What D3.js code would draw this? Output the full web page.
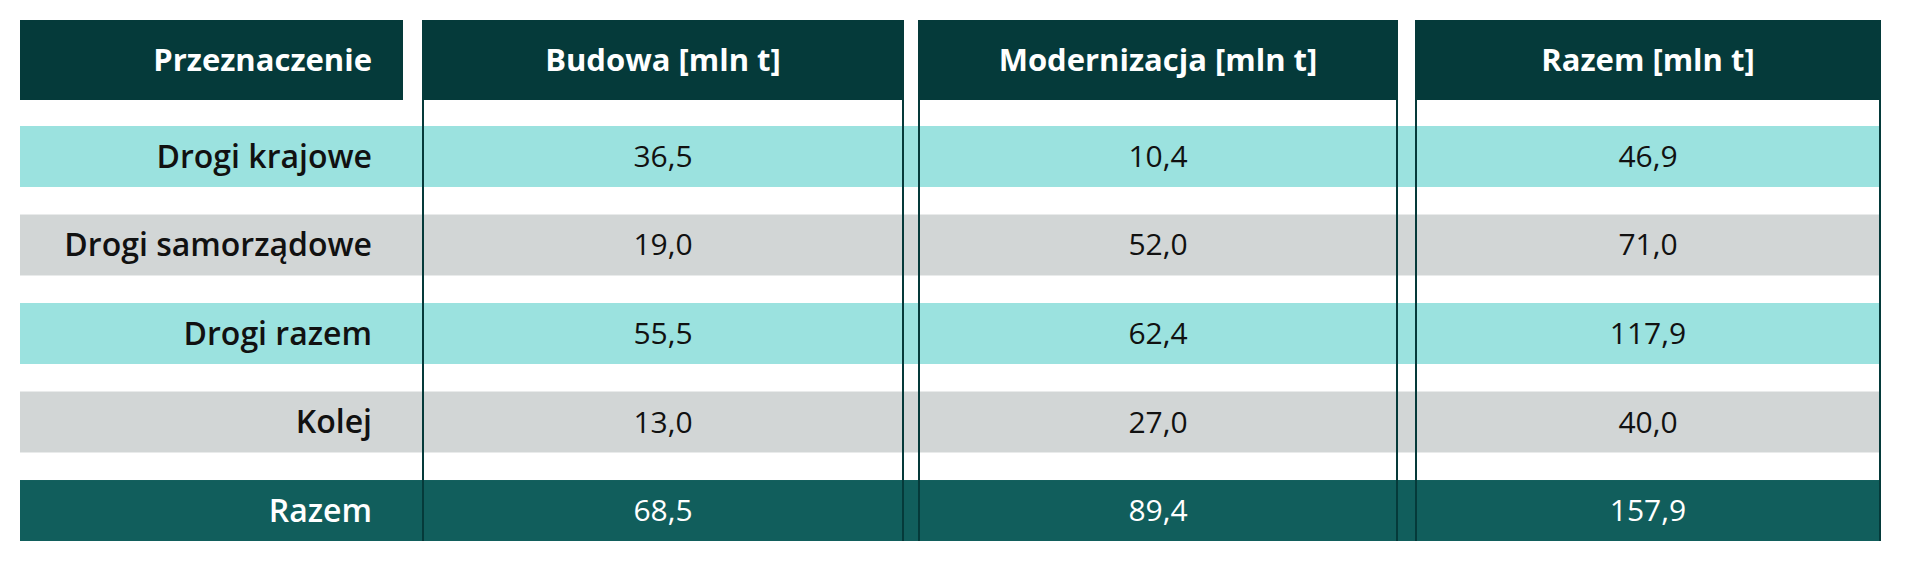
<!DOCTYPE html><html><head><meta charset="utf-8"><script src="https://cdn.jsdelivr.net/npm/d3@7"></script>
<style>body{margin:0;background:#fff}</style></head><body><svg id="c" width="1920" height="565"></svg>
<script>
const headers=["Przeznaczenie","Budowa [mln t]","Modernizacja [mln t]","Razem [mln t]"];
const categories=["Drogi krajowe","Drogi samorządowe","Drogi razem","Kolej","Razem"];
const budowa=["36,5","19,0","55,5","13,0","68,5"];
const modernizacja=["10,4","52,0","62,4","27,0","89,4"];
const razem=["46,9","71,0","117,9","40,0","157,9"];
const rowFill=["#9be2df","#d2d6d6","#9be2df","#d2d6d6","#115e5c"];
const svg=d3.select("#c");
const cols=[[20,403],[422,904],[918,1398],[1415,1881]];
const rowY=d3.scaleBand().domain(d3.range(5)).range([126,541]).paddingInner(0.311).paddingOuter(0);
const font="'Open Sans',sans-serif";
cols.forEach((c,i)=>{svg.append("rect").attr("x",c[0]).attr("y",20).attr("width",c[1]-c[0]).attr("height",80).attr("fill","#053a3a");
 svg.append("text").attr("x",i==0?372:(c[0]+c[1])/2).attr("y",60).attr("dy","0.35em").attr("text-anchor",i==0?"end":"middle")
 .attr("fill","#fff").attr("font-family",font).attr("font-weight",700).attr("font-size",31).text(headers[i]);});
const data=categories.map((k,i)=>[k,budowa[i],modernizacja[i],razem[i]]);
data.forEach((r,i)=>{const y=rowY(i),h=rowY.bandwidth();
 svg.append("rect").attr("x",20).attr("y",y).attr("width",1861).attr("height",h).attr("fill",rowFill[i]);
 const tc=i==4?"#fff":"#111";
 r.forEach((v,j)=>{svg.append("text").attr("x",j==0?372:(cols[j][0]+cols[j][1])/2).attr("y",y+h/2).attr("dy","0.35em")
  .attr("text-anchor",j==0?"end":"middle").attr("fill",tc).attr("font-family",font).attr("font-weight",j==0?600:400)
  .attr("font-size",j==0?32:30).text(v);});});
cols.slice(1).forEach(c=>{[c[0]+1,c[1]-1].forEach(x=>svg.append("line").attr("x1",x).attr("x2",x).attr("y1",20).attr("y2",541).attr("stroke","#053a3a").attr("stroke-width",2));});
</script></body></html>
